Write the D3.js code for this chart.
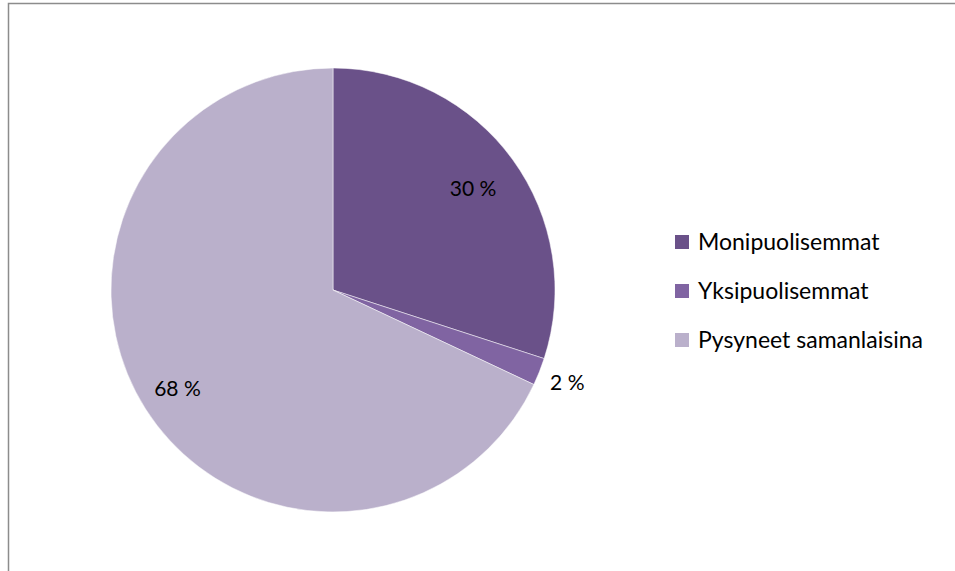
<!DOCTYPE html>
<html>
<head>
<meta charset="utf-8">
<script src="https://cdn.jsdelivr.net/npm/d3@7"></script>
<style>
	body { margin: 0; background: #fff; }
	text { font-family: Lato, "Open Sans", sans-serif; fill: #000; }
</style>
</head>
<body>
<svg width="955" height="571"></svg>
<script>
let categories = ['Monipuolisemmat', 'Yksipuolisemmat', 'Pysyneet samanlaisina'];
let values = [30, 2, 68];
let labels = ['30 %', '2 %', '68 %'];
let colors = ['#6a5189', '#8064a2', '#bab0cb'];

let svg = d3.select('svg');

// outer frame (only top/left edges visible in the window)
svg
	.append('rect')
	.attr('x', 8.5)
	.attr('y', 3.5)
	.attr('width', 1000)
	.attr('height', 1000)
	.attr('fill', 'none')
	.attr('stroke', '#8c8c8c')
	.attr('stroke-width', 1.5);

let cx = 333;
let cy = 290;
let radius = 222;

let chart = svg
	.append('g')
	.attr('transform', 'translate(' + cx + ', ' + cy + ')');

let pie = d3.pie()
	.sort(null)
	.value(d => d);

let arcs = pie(values);

let arc = d3.arc()
	.innerRadius(0)
	.outerRadius(radius);

chart
	.selectAll('path')
	.data(arcs)
	.enter()
	.append('path')
	.attr('d', arc)
	.attr('fill', (d, i) => colors[i])
	.attr('stroke', '#fff')
	.attr('stroke-width', 0.5);

// small slices get their label outside the pie
function labelRadius(d) {
	let share = (d.endAngle - d.startAngle) / (2 * Math.PI);
	if (share < 0.05) return radius + 30;
	if (share > 0.5) return radius * 0.83;
	return radius * 0.78;
}

chart
	.selectAll('.lbl')
	.data(arcs)
	.enter()
	.append('text')
	.attr('class', 'lbl')
	.attr('x', d => {
		let a = (d.startAngle + d.endAngle) / 2;
		return Math.sin(a) * labelRadius(d);
	})
	.attr('y', d => {
		let a = (d.startAngle + d.endAngle) / 2;
		return -Math.cos(a) * labelRadius(d);
	})
	.attr('dy', '0.35em')
	.attr('text-anchor', 'middle')
	.style('font-size', '21px')
	.text((d, i) => labels[i]);

let legend = svg
	.append('g')
	.attr('transform', 'translate(675, 242)');

let rowY = d3.scalePoint()
	.domain(categories)
	.range([0, 98]);

let items = legend
	.selectAll('g')
	.data(categories)
	.enter()
	.append('g')
	.attr('transform', d => 'translate(0, ' + rowY(d) + ')');

items
	.append('rect')
	.attr('x', 0)
	.attr('y', -7)
	.attr('width', 14)
	.attr('height', 14)
	.attr('fill', (d, i) => colors[i]);

items
	.append('text')
	.attr('x', 23)
	.attr('y', 0)
	.attr('dy', '0.35em')
	.style('font-size', '23px')
	.text(d => d);
</script>
</body>
</html>
